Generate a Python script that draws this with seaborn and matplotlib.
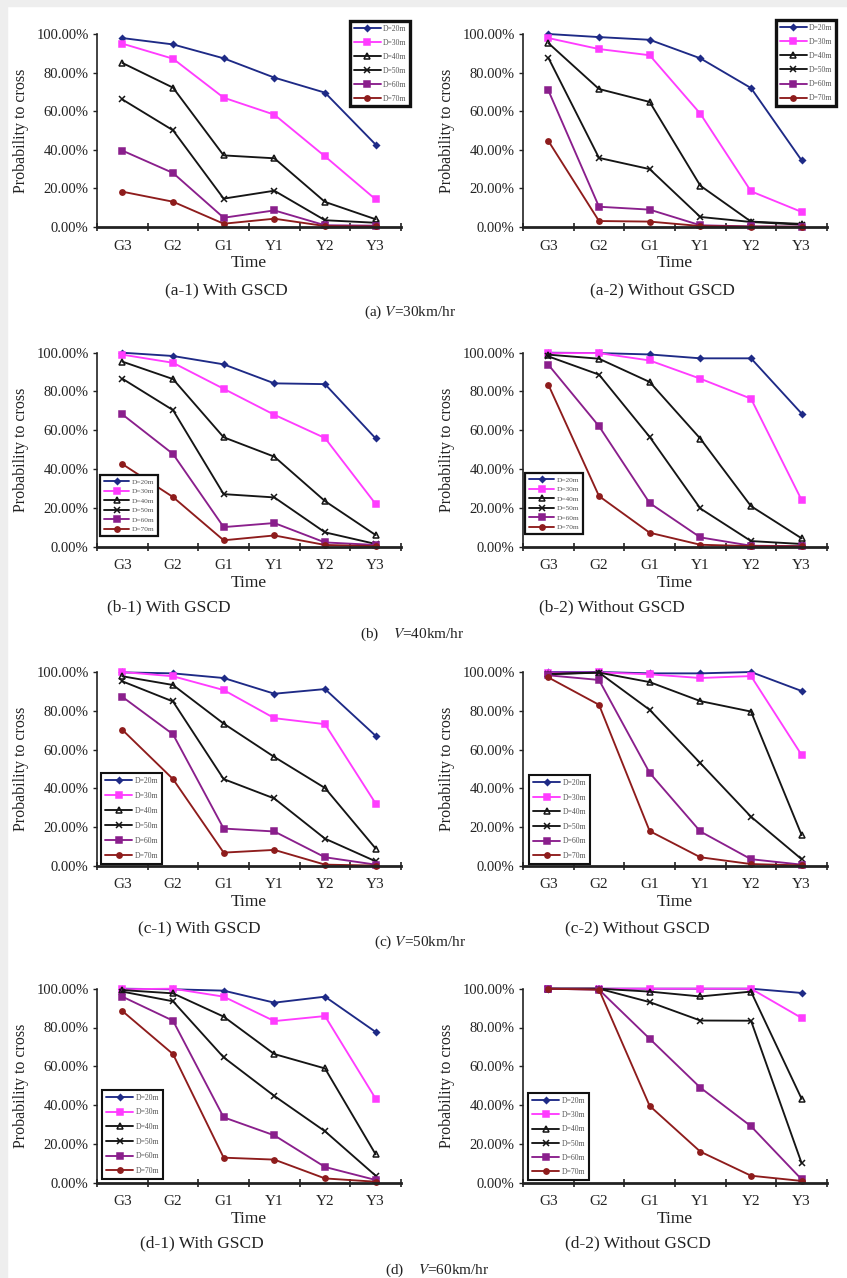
import matplotlib
matplotlib.use("Agg")
import matplotlib.pyplot as plt
import seaborn as sns
import numpy as np
from matplotlib.ticker import PercentFormatter, FixedLocator
from matplotlib.patches import Rectangle

times = ["G3", "G2", "G1", "Y1", "Y2", "Y3"]
distances = ["D=20m", "D=30m", "D=40m", "D=50m", "D=60m", "D=70m"]

# probability to cross (%), one row per distance D=20m ... D=70m
a1_with = [[97.9, 94.6, 87.4, 77.4, 69.6, 42.7],
           [95.0, 87.2, 67.0, 58.2, 36.6, 14.3],
           [85.0, 72.2, 37.1, 35.6, 13.0, 4.0],
           [66.1, 50.1, 14.7, 18.8, 3.5, 2.2],
           [39.6, 28.0, 4.8, 8.6, 0.9, 0.7],
           [18.3, 13.1, 1.7, 4.3, 0.5, 0.3]]
a2_without = [[100.0, 98.4, 97.0, 87.4, 72.0, 34.5],
              [97.9, 92.2, 89.0, 58.7, 18.5, 7.8],
              [95.3, 71.5, 64.8, 21.4, 2.8, 1.6],
              [87.7, 35.8, 30.0, 5.2, 2.6, 1.2],
              [70.8, 10.5, 9.0, 0.9, 0.3, 0.2],
              [44.6, 3.1, 2.8, 0.5, 0.2, 0.1]]
b1_with = [[100.0, 98.3, 94.0, 84.2, 83.8, 55.8],
           [99.0, 94.8, 81.4, 68.0, 56.0, 22.0],
           [95.4, 86.4, 56.4, 46.4, 23.5, 6.0],
           [86.6, 70.4, 27.1, 25.4, 7.4, 1.4],
           [68.2, 47.8, 10.1, 12.2, 2.2, 0.9],
           [42.6, 25.6, 3.3, 5.8, 0.9, 0.3]]
b2_without = [[100.0, 99.8, 99.1, 97.1, 97.1, 68.6],
              [99.8, 99.8, 96.0, 86.6, 76.3, 24.0],
              [99.0, 96.9, 84.9, 55.7, 20.9, 4.3],
              [98.1, 88.7, 56.6, 19.7, 2.9, 1.4],
              [93.8, 62.1, 22.5, 4.8, 0.5, 0.3],
              [83.5, 26.1, 7.2, 1.0, 0.3, 0.2]]
c1_with = [[99.8, 99.3, 96.9, 88.8, 91.2, 67.1],
           [100.0, 97.8, 90.7, 76.2, 73.1, 32.2],
           [97.8, 93.3, 73.4, 56.2, 40.2, 9.0],
           [95.2, 84.8, 44.8, 34.8, 14.1, 2.4],
           [87.2, 67.9, 19.3, 17.8, 4.5, 0.7],
           [70.2, 44.8, 6.9, 8.3, 0.7, 0.2]]
c2_without = [[100.0, 100.0, 99.3, 99.3, 100.0, 90.2],
              [99.7, 99.8, 98.8, 96.9, 97.9, 57.2],
              [99.1, 99.7, 94.8, 85.0, 79.6, 15.9],
              [98.8, 99.7, 80.5, 53.0, 25.4, 3.5],
              [98.3, 95.9, 48.0, 17.8, 3.5, 0.7],
              [97.2, 83.1, 18.0, 4.5, 1.0, 0.3]]
d1_with = [[100.0, 99.7, 99.0, 92.8, 95.9, 77.7],
           [99.7, 100.0, 95.9, 83.3, 85.9, 43.3],
           [99.3, 97.6, 85.6, 66.3, 58.9, 14.6],
           [98.5, 93.5, 64.6, 44.7, 26.5, 3.6],
           [95.9, 83.5, 33.7, 24.4, 8.1, 1.4],
           [88.5, 66.3, 12.9, 11.9, 2.2, 0.5]]
d2_without = [[100.0, 100.0, 100.0, 100.0, 100.0, 97.8],
              [100.0, 100.0, 100.0, 100.0, 100.0, 84.9],
              [100.0, 100.0, 98.5, 96.0, 98.5, 43.2],
              [100.0, 100.0, 93.1, 83.6, 83.5, 10.0],
              [100.0, 99.5, 74.2, 49.0, 29.1, 1.7],
              [100.0, 99.5, 39.6, 16.0, 3.6, 0.9]]

colors = ["#1e2a86", "#ff3cff", "#151515", "#151515", "#8a1f8c", "#8e1c1c"]
markers = ["D", "s", "^", "x", "s", "o"]
marker_sizes = [3.0, 3.8, 4.0, 4.5, 3.8, 3.8]

W, H = 847, 1278
sns.set_theme(style="white")
plt.rcParams["font.family"] = ["Liberation Serif", "DejaVu Serif"]
plt.rcParams["mathtext.fontset"] = "stix"

fig = plt.figure(figsize=(W / 100, H / 100), dpi=100)
fig.patch.set_facecolor("white")
# light grey page margin at left and top
fig.patches.append(Rectangle((0, 0), 7 / W, 1, transform=fig.transFigure, color="#eeeeee", zorder=0))
fig.patches.append(Rectangle((0, 1 - 6 / H), 1, 6 / H, transform=fig.transFigure, color="#eeeeee", zorder=0))


def fx(x):
    return x / W


def fy(y):
    return 1 - y / H


def draw_panel(rows, box, legend_box, leg_fs, leg_lw, leg_spacing):
    x0, y0, x1, y1 = box
    ax = fig.add_axes([fx(x0), fy(y1), (x1 - x0) / W, (y1 - y0) / H])
    ax.set_facecolor("none")
    for label, vals, c, m, ms in zip(distances, rows, colors, markers, marker_sizes):
        face = "none" if m == "^" else c
        sns.lineplot(x=times, y=np.array(vals) / 100, ax=ax, color=c, marker=m,
                     markersize=ms, markerfacecolor=face, markeredgecolor=c,
                     markeredgewidth=1.1, linewidth=1.35, label=label, sort=False,
                     clip_on=False)
    ax.set_xlim(-0.5, 5.5)
    ax.set_ylim(0, 1)
    ax.yaxis.set_major_locator(FixedLocator([0, 0.2, 0.4, 0.6, 0.8, 1.0]))
    ax.yaxis.set_major_formatter(PercentFormatter(1.0, decimals=2))
    ax.xaxis.set_minor_locator(FixedLocator(np.arange(-0.5, 6, 1.0)))
    ax.tick_params(axis="x", which="major", length=0, pad=9, labelsize=11, colors="#222222")
    ax.tick_params(axis="x", which="minor", length=6, width=1.2, direction="inout", color="#222222", bottom=True)
    ax.tick_params(axis="y", which="major", length=3, width=1.0, direction="out", pad=3,
                   labelsize=10.5, colors="#222222", left=True)
    for s in ["top", "right"]:
        ax.spines[s].set_visible(False)
    ax.spines["left"].set_color("#222222")
    ax.spines["left"].set_linewidth(1.2)
    ax.spines["bottom"].set_color("#222222")
    ax.spines["bottom"].set_linewidth(2.0)
    ax.set_xlabel("Time", fontsize=12.5, color="#222222")
    ax.xaxis.set_label_coords(0.5, -36 / (y1 - y0))
    ax.xaxis.label.set_va("center")
    ax.set_ylabel("Probability to cross", fontsize=11.5, color="#222222")
    ax.yaxis.set_label_coords(-0.25, 0.5)
    ax.yaxis.label.set_va("center")

    lx0, ly0, lx1, ly1 = legend_box
    leg = ax.legend(loc="upper left", bbox_to_anchor=(fx(lx0), fy(ly0)),
                    bbox_transform=fig.transFigure, borderaxespad=0,
                    fontsize=leg_fs, frameon=True, fancybox=False, framealpha=1,
                    handlelength=3.5, handletextpad=0.3, labelspacing=leg_spacing,
                    borderpad=0.5)
    leg.get_frame().set_edgecolor("#111111")
    leg.get_frame().set_linewidth(leg_lw)
    for t in leg.get_texts():
        t.set_color("#555555")
    leg.set_zorder(5)
    return ax


cols = [(97, 401), (523, 827)]
rows_y = [(34, 227), (352.7, 546.7), (672, 866), (988.7, 1182.7)]

panels = [
    (a1_with, 0, 0, (350, 21, 415, 106), 5.5, 2.4, 0.78),
    (a2_without, 0, 1, (776, 20, 846, 108), 5.5, 2.4, 0.8),
    (b1_with, 1, 0, (100, 475, 163, 546), 5.3, 1.6, 0.45),
    (b2_without, 1, 1, (525, 473, 588, 543), 5.3, 1.6, 0.45),
    (c1_with, 2, 0, (101, 773, 165, 866), 5.6, 1.5, 0.9),
    (c2_without, 2, 1, (529, 775, 595, 862), 5.6, 1.5, 0.85),
    (d1_with, 3, 0, (102, 1090, 173, 1180), 5.6, 1.5, 0.85),
    (d2_without, 3, 1, (528, 1093, 597, 1180), 5.6, 1.5, 0.8),
]
for rows, r, c, lbox, fs, lw, sp in panels:
    x0, x1 = cols[c]
    y0, y1 = rows_y[r]
    draw_panel(rows, (x0, y0, x1, y1), lbox, fs, lw, sp)

captions = [
    ("(a-1) With GSCD", 226, 290), ("(a-2) Without GSCD", 662, 290),
    ("(b-1) With GSCD", 169, 607), ("(b-2) Without GSCD", 612, 607),
    ("(c-1) With GSCD", 199, 928), ("(c-2) Without GSCD", 637, 928),
    ("(d-1) With GSCD", 202, 1243), ("(d-2) Without GSCD", 638, 1243),
]
for txt, x, y in captions:
    fig.text(fx(x), fy(y), txt, ha="center", va="center", fontsize=12.5, color="#222222")

speed_labels = [
    ("(a) $V$=30km/hr", 410, 312),
    ("(b)    $V$=40km/hr", 412, 634),
    ("(c) $V$=50km/hr", 420, 942),
    ("(d)    $V$=60km/hr", 437, 1270),
]
for txt, x, y in speed_labels:
    fig.text(fx(x), fy(y), txt, ha="center", va="center", fontsize=11, color="#222222")

fig.savefig("out.png", dpi=100)
